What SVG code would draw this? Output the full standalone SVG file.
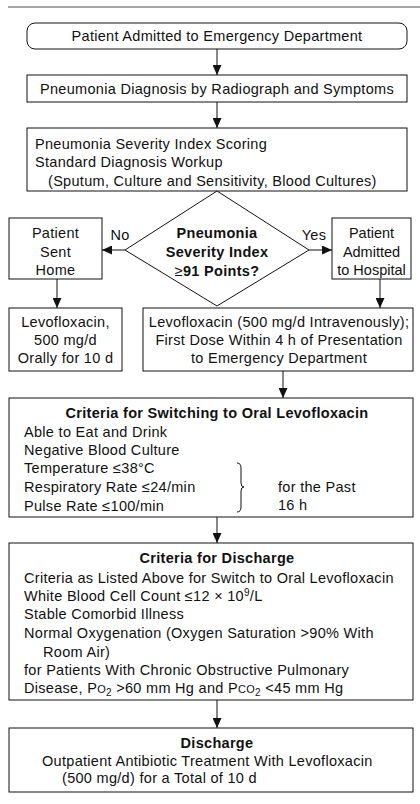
<svg xmlns="http://www.w3.org/2000/svg" width="420" height="804" viewBox="0 0 420 804">
<style>
.bx{fill:#fff;stroke:#111;stroke-width:1}
.t{font-family:"Liberation Sans",Arial,sans-serif;font-size:14.5px;letter-spacing:0.3px;fill:#111}
.c{text-anchor:middle}
.b{font-weight:bold}
.n{letter-spacing:0}
.ln{stroke:#111;stroke-width:1;fill:none}
</style>
<defs>
<marker id="ah" markerUnits="userSpaceOnUse" markerWidth="10" markerHeight="9" refX="10" refY="4.5" orient="auto">
<path d="M0,0 L10,4.5 L0,9 z" fill="#111"/>
</marker>
</defs>
<rect width="420" height="804" fill="#fff"/>
<line x1="8" y1="7" x2="420" y2="7" stroke="#888" stroke-width="1.5"/>

<g id="connectors">
<line class="ln" x1="217" y1="49" x2="217" y2="75" marker-end="url(#ah)"/>
<line class="ln" x1="217" y1="102" x2="217" y2="128" marker-end="url(#ah)"/>
<line class="ln" x1="125" y1="250" x2="102" y2="250" marker-end="url(#ah)"/>
<line class="ln" x1="309" y1="250" x2="332" y2="250" marker-end="url(#ah)"/>
<line class="ln" x1="57" y1="279" x2="57" y2="308" marker-end="url(#ah)"/>
<line class="ln" x1="380" y1="279" x2="380" y2="308" marker-end="url(#ah)"/>
<line class="ln" x1="283" y1="371" x2="283" y2="398" marker-end="url(#ah)"/>
<line class="ln" x1="217" y1="517" x2="217" y2="543" marker-end="url(#ah)"/>
<line class="ln" x1="217" y1="700" x2="217" y2="728" marker-end="url(#ah)"/>
<text class="t c" x="120" y="240">No</text>
<text class="t c" x="314" y="240">Yes</text>
</g>

<g id="admit">
<rect class="bx" x="27" y="23" width="380" height="26" rx="8"/>
<text class="t c" x="217" y="41">Patient Admitted to Emergency Department</text>
</g>

<g id="diagnosis">
<rect class="bx" x="27" y="75" width="380" height="27"/>
<text class="t c" x="217" y="94">Pneumonia Diagnosis by Radiograph and Symptoms</text>
</g>

<g id="scoring">
<rect class="bx" x="27" y="128" width="380" height="63"/>
<text class="t" x="35" y="149">Pneumonia Severity Index Scoring</text>
<text class="t" x="35" y="167">Standard Diagnosis Workup</text>
<text class="t" x="48" y="186">(Sputum, Culture and Sensitivity, Blood Cultures)</text>
</g>

<g id="decision">
<polygon class="bx" points="217,191 309,250 217,306 125,250"/>
<text class="t c b" x="217" y="238">Pneumonia</text>
<text class="t c b" x="217" y="257">Severity Index</text>
<text class="t c b" x="217" y="276"><tspan font-weight="normal">≥</tspan>91 Points?</text>
</g>

<g id="home">
<rect class="bx" x="9" y="218" width="93" height="61"/>
<text class="t c" x="55.5" y="238">Patient</text>
<text class="t c" x="55.5" y="257">Sent</text>
<text class="t c" x="55.5" y="275">Home</text>
</g>

<g id="hospital">
<rect class="bx" x="332" y="218" width="79" height="61"/>
<text class="t c n" x="371.5" y="238">Patient</text>
<text class="t c n" x="371.5" y="257">Admitted</text>
<text class="t c n" x="371.5" y="275">to Hospital</text>
</g>

<g id="oral">
<rect class="bx" x="9" y="308" width="113" height="63"/>
<text class="t c" x="65.5" y="327">Levofloxacin,</text>
<text class="t c" x="65.5" y="345">500 mg/d</text>
<text class="t c" x="65.5" y="363">Orally for 10 d</text>
</g>

<g id="iv">
<rect class="bx" x="143" y="308" width="270" height="63"/>
<text class="t c" x="279" y="327">Levofloxacin (500 mg/d Intravenously);</text>
<text class="t c" x="279" y="345">First Dose Within 4 h of Presentation</text>
<text class="t c" x="279" y="363">to Emergency Department</text>
</g>

<g id="switch">
<rect class="bx" x="9" y="398" width="404" height="119"/>
<text class="t c b" x="217" y="418">Criteria for Switching to Oral Levofloxacin</text>
<text class="t" x="24" y="437">Able to Eat and Drink</text>
<text class="t" x="24" y="455">Negative Blood Culture</text>
<text class="t" x="24" y="473">Temperature ≤38°C</text>
<text class="t" x="24" y="492">Respiratory Rate ≤24/min</text>
<text class="t" x="24" y="511">Pulse Rate ≤100/min</text>
<path class="ln" d="M237,463 Q241,463 241,468 L241,483 Q241,487 244,487 Q241,487 241,491 L241,507 Q241,512 237,512"/>
<text class="t" x="278" y="492">for the Past</text>
<text class="t" x="278" y="510">16 h</text>
</g>

<g id="discharge-criteria">
<rect class="bx" x="9" y="543" width="404" height="157"/>
<text class="t c b" x="217" y="563">Criteria for Discharge</text>
<text class="t" x="24" y="583">Criteria as Listed Above for Switch to Oral Levofloxacin</text>
<text class="t" x="24" y="601">White Blood Cell Count ≤12 × 10<tspan font-size="10" dy="-5">9</tspan><tspan dy="5">/L</tspan></text>
<text class="t" x="24" y="619">Stable Comorbid Illness</text>
<text class="t" x="24" y="638">Normal Oxygenation (Oxygen Saturation &gt;90% With</text>
<text class="t" x="43" y="657">Room Air)</text>
<text class="t" x="24" y="675">for Patients With Chronic Obstructive Pulmonary</text>
<text class="t" x="24" y="693">Disease, P<tspan font-size="11">O</tspan><tspan font-size="10" dy="3">2</tspan><tspan dy="-3"> &gt;60 mm Hg and P</tspan><tspan font-size="11">CO</tspan><tspan font-size="10" dy="3">2</tspan><tspan dy="-3"> &lt;45 mm Hg</tspan></text>
</g>

<g id="discharge">
<rect class="bx" x="9" y="728" width="404" height="64"/>
<text class="t c b" x="217" y="748">Discharge</text>
<text class="t" x="42" y="766">Outpatient Antibiotic Treatment With Levofloxacin</text>
<text class="t" x="62" y="783">(500 mg/d) for a Total of 10 d</text>
</g>
</svg>
